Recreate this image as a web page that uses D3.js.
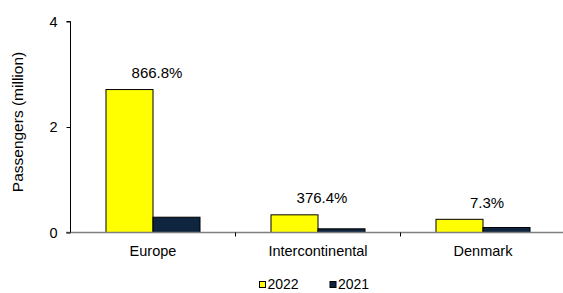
<!DOCTYPE html>
<html lang="en">
<head>
    <meta charset="UTF-8">
    <title>Passengers by region</title>
    <script src="https://cdn.jsdelivr.net/npm/d3@7"></script>
    <style>
        body {
            margin: 0;
            background-color: #fff;
            font-family: 'Liberation Sans', Arial, sans-serif;
        }
        svg {
            display: block;
        }
    </style>
</head>
<body>
    <svg id="chart"></svg>

    <script>
        // data
        const categories = ["Europe", "Intercontinental", "Denmark"];
        const seriesNames = ["2022", "2021"];
        const values2022 = [2.71, 0.335, 0.25];
        const values2021 = [0.29, 0.07, 0.095];
        const growthLabels = ["866.8%", "376.4%", "7.3%"];
        const yTicks = [0, 2, 4];
        const colors = ["#ffff00", "#0f243e"];

        const width = 563;
        const height = 293;

        const svg = d3.select("#chart")
            .attr("width", width)
            .attr("height", height);

        const x0 = d3.scaleBand()
            .domain(categories)
            .range([70.5, 565.5])
            .paddingInner(0)
            .paddingOuter(0);

        const x1 = d3.scaleBand()
            .domain(seriesNames)
            .range([0, x0.bandwidth()])
            .paddingInner(0)
            .paddingOuter(0.755);

        const y = d3.scaleLinear()
            .domain([0, 4])
            .range([232.5, 21.5]);

        const rows = categories.map((c, i) => ({
            cat: c,
            vals: [values2022[i], values2021[i]],
            label: growthLabels[i]
        }));

        // bars
        const groups = svg.append("g")
            .selectAll("g")
            .data(rows)
            .enter().append("g")
            .attr("transform", d => `translate(${x0(d.cat)},0)`);

        groups.selectAll("rect")
            .data(d => d.vals.map((v, j) => ({ key: seriesNames[j], v: v, j: j })))
            .enter().append("rect")
            .attr("x", d => x1(d.key))
            .attr("y", d => y(d.v))
            .attr("width", x1.bandwidth())
            .attr("height", d => y(0) - y(d.v))
            .attr("fill", d => colors[d.j])
            .attr("stroke", "#000")
            .attr("stroke-width", 1);

        // growth labels above each group
        groups.append("text")
            .attr("x", x0.bandwidth() / 2 + 4)
            .attr("y", d => y(d.vals[0]) - 11.5)
            .attr("text-anchor", "middle")
            .attr("font-size", "15px")
            .attr("fill", "#000")
            .text(d => d.label);

        // x axis
        const xAxis = svg.append("g")
            .attr("transform", `translate(0,${y(0)})`);
        xAxis.append("line")
            .attr("x1", 66).attr("x2", width)
            .attr("y1", 0).attr("y2", 0)
            .attr("stroke", "#808080")
            .attr("stroke-width", 1.5);
        xAxis.selectAll(".xtick")
            .data(categories.slice(1))
            .enter().append("line")
            .attr("x1", d => x0(d)).attr("x2", d => x0(d))
            .attr("y1", 0).attr("y2", 4)
            .attr("stroke", "#000");
        xAxis.selectAll(".xlabel")
            .data(categories)
            .enter().append("text")
            .attr("x", d => x0(d) + x0.bandwidth() / 2)
            .attr("y", 23)
            .attr("text-anchor", "middle")
            .attr("font-size", "14.5px")
            .attr("fill", "#000")
            .text(d => d);

        // y axis
        const yAxis = svg.append("g")
            .attr("transform", "translate(70.5,0)")
            .call(d3.axisLeft(y).tickValues(yTicks).tickSize(4).tickPadding(9).tickFormat(d3.format("d")));
        yAxis.select(".domain").attr("d", `M-4,${y(4)}H0V${y(0)}`).attr("stroke", "#000");
        yAxis.selectAll(".tick text")
            .attr("font-size", "14.5px")
            .attr("font-family", "'Liberation Sans', Arial, sans-serif")
            .attr("fill", "#000");

        svg.append("text")
            .attr("transform", `translate(23,${(y(0) + y(4)) / 2 - 5}) rotate(-90)`)
            .attr("text-anchor", "middle")
            .attr("font-size", "15.5px")
            .attr("fill", "#000")
            .text("Passengers (million)");

        // legend at the bottom edge
        const legendX = [259.5, 330];
        const legend = svg.append("g")
            .selectAll("g")
            .data(seriesNames)
            .enter().append("g")
            .attr("transform", (d, i) => `translate(${legendX[i]},281.5)`);
        legend.append("rect")
            .attr("width", 6).attr("height", 6)
            .attr("fill", (d, i) => colors[i])
            .attr("stroke", "#000");
        legend.append("text")
            .attr("x", 8)
            .attr("y", 7.5)
            .attr("font-size", "14px")
            .attr("fill", "#000")
            .text(d => d);
    </script>
</body>
</html>
